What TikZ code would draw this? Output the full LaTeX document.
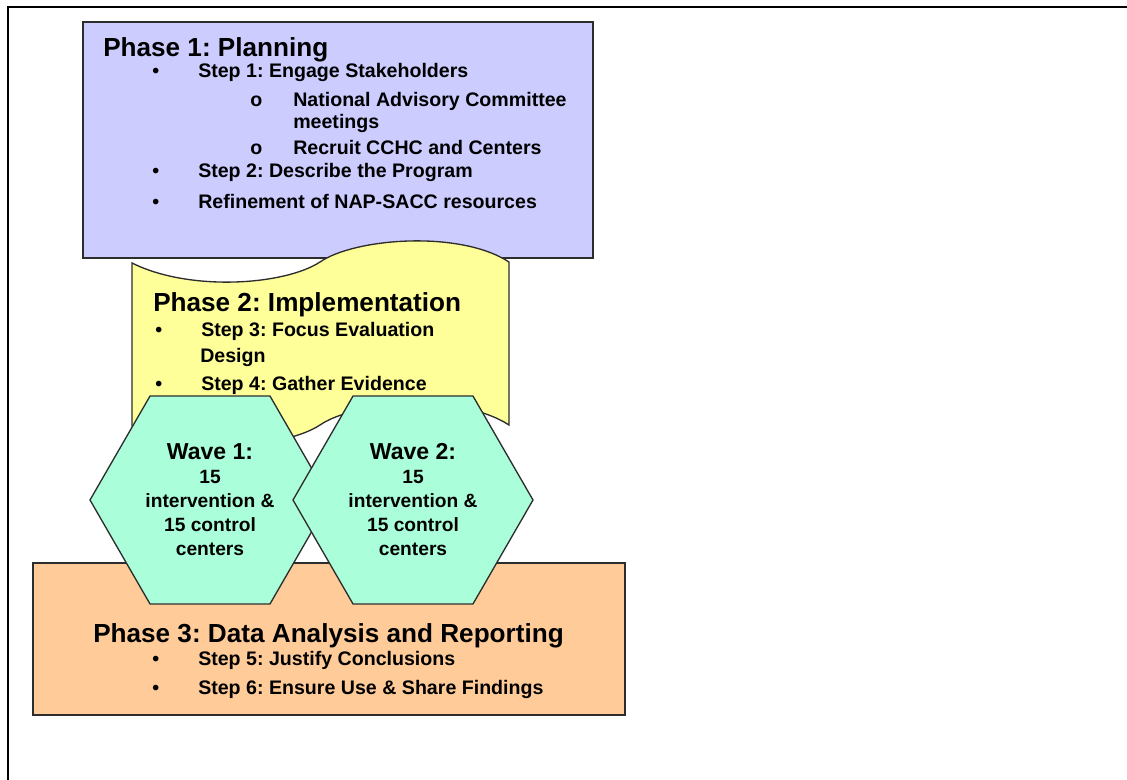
\documentclass[tikz,border=0pt]{standalone}
\usepackage{fontspec}
\setmainfont{Liberation Sans}
\usetikzlibrary{shapes.geometric}
\definecolor{planfill}{RGB}{204,204,255}
\definecolor{implfill}{RGB}{255,255,153}
\definecolor{datafill}{RGB}{255,204,153}
\definecolor{wavefill}{RGB}{170,255,218}
\definecolor{edgegray}{RGB}{45,45,45}
\newcommand{\bul}{\makebox[34.5pt][l]{\textbullet}}
\newcommand{\subbul}{\makebox[32.25pt][l]{o}}
\frenchspacing
\begin{document}
\begin{tikzpicture}[x=0.75pt,y=-0.75pt,
    phase/.style={draw=edgegray,line width=1pt},
    head/.style={anchor=base west,inner sep=0pt,font=\bfseries\fontsize{19.6}{22}\selectfont},
    item/.style={anchor=base west,inner sep=0pt,font=\bfseries\fontsize{14.7}{18}\selectfont},
    wave/.style={regular polygon,regular polygon sides=6,minimum size=180pt,inner sep=0pt,
        draw=edgegray,line width=1pt,fill=wavefill,align=center,
        font=\bfseries\fontsize{14.4}{18}\selectfont}]
    \useasboundingbox (0,0) rectangle (1127,780);
    % frame
    \draw[line width=1pt] (1127,7) -- (8,7) -- (8,780);
    % phase 1
    \draw[phase,fill=planfill] (83,22) rectangle (593,258);
    % phase 2 (punched tape)
    \draw[phase,fill=implfill] (132,263) .. controls (190,292) and (285,285) .. (320,262)
        .. controls (355,238) and (460,230) .. (509,262) -- (509,425)
        .. controls (460,393) and (355,401) .. (320,425)
        .. controls (285,448) and (190,455) .. (132,426) -- cycle;
    \node(p1)[head] at (103,57){Phase 1: Planning};
    \node(s1)[item] at (152,78){\bul Step 1: Engage Stakeholders};
    \node(s1a)[item] at (250,107){\subbul National Advisory Committee};
    \node(s1a2)[item] at (293,129){meetings};
    \node(s1b)[item] at (250,155){\subbul Recruit CCHC and Centers};
    \node(s2)[item] at (152,178){\bul Step 2: Describe the Program};
    \node(nap)[item] at (152,209){\bul Refinement of NAP-SACC resources};
    \node(p2)[head] at (153,312){Phase 2: Implementation};
    \node(s3)[item] at (155,337){\bul Step 3: Focus Evaluation};
    \node(s3b)[item] at (200,362){Design};
    \node(s4)[item] at (155,390){\bul Step 4: Gather Evidence};
    % phase 3
    \draw[phase,fill=datafill] (33,563) rectangle (625,715);
    \node(p3)[head] at (93,642){Phase 3: Data Analysis and Reporting};
    \node(s5)[item] at (152,665){\bul Step 5: Justify Conclusions};
    \node(s6)[item] at (152,694){\bul Step 6: Ensure Use \& Share Findings};
    % waves
    \node(w1)[wave] at (210,500){{\fontsize{17.3}{18}\selectfont Wave 1:}\\15\\intervention \&\\15 control\\centers};
    \node(w2)[wave] at (413,500){{\fontsize{17.3}{18}\selectfont Wave 2:}\\15\\intervention \&\\15 control\\centers};
\end{tikzpicture}
\end{document}
